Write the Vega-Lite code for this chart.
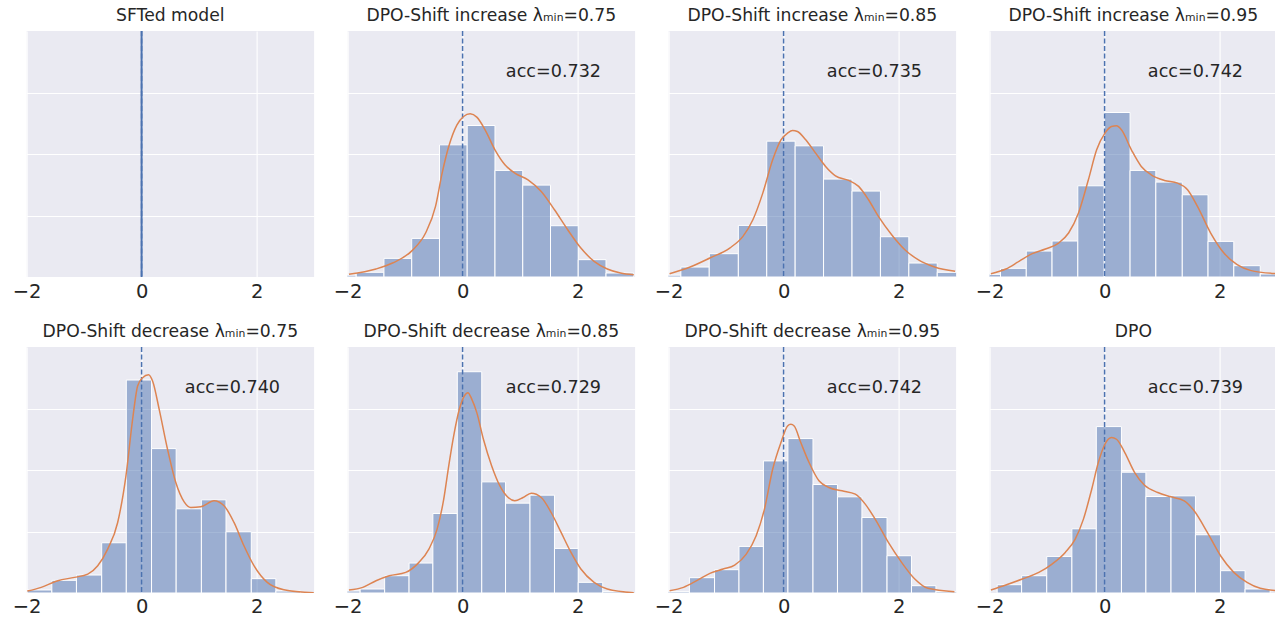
{
  "$schema": "https://vega.github.io/schema/vega-lite/v6.json",
  "padding": {"left": 11.6, "top": 6, "right": 0, "bottom": 0},
  "background": "white",
  "data": {"values": [
    {"p":1,"kind":"acc"},{"p":2,"kind":"acc"},{"p":3,"kind":"acc"},{"p":4,"kind":"acc"},
    {"p":5,"kind":"acc"},{"p":6,"kind":"acc"},{"p":7,"kind":"acc"},{"p":8,"kind":"acc"},
    {"p":1,"kind":"spike"},

    {"p":2,"kind":"bar","x0":-2.33,"x1":-1.85,"h":0.03},
    {"p":2,"kind":"bar","x0":-1.85,"x1":-1.368,"h":0.076},
    {"p":2,"kind":"bar","x0":-1.368,"x1":-0.885,"h":0.303},
    {"p":2,"kind":"bar","x0":-0.885,"x1":-0.402,"h":0.628},
    {"p":2,"kind":"bar","x0":-0.402,"x1":0.08,"h":2.149},
    {"p":2,"kind":"bar","x0":0.08,"x1":0.563,"h":2.463},
    {"p":2,"kind":"bar","x0":0.563,"x1":1.046,"h":1.733},
    {"p":2,"kind":"bar","x0":1.046,"x1":1.529,"h":1.494},
    {"p":2,"kind":"bar","x0":1.529,"x1":2.011,"h":0.834},
    {"p":2,"kind":"bar","x0":2.011,"x1":2.494,"h":0.282},
    {"p":2,"kind":"bar","x0":2.494,"x1":2.977,"h":0.065},

    {"p":3,"kind":"bar","x0":-2.28,"x1":-1.787,"h":0.03},
    {"p":3,"kind":"bar","x0":-1.787,"x1":-1.293,"h":0.162},
    {"p":3,"kind":"bar","x0":-1.293,"x1":-0.787,"h":0.379},
    {"p":3,"kind":"bar","x0":-0.787,"x1":-0.293,"h":0.839},
    {"p":3,"kind":"bar","x0":-0.293,"x1":0.201,"h":2.209},
    {"p":3,"kind":"bar","x0":0.201,"x1":0.695,"h":2.133},
    {"p":3,"kind":"bar","x0":0.695,"x1":1.19,"h":1.592},
    {"p":3,"kind":"bar","x0":1.19,"x1":1.684,"h":1.397},
    {"p":3,"kind":"bar","x0":1.684,"x1":2.178,"h":0.655},
    {"p":3,"kind":"bar","x0":2.178,"x1":2.672,"h":0.227},
    {"p":3,"kind":"bar","x0":2.672,"x1":3.166,"h":0.076},

    {"p":4,"kind":"bar","x0":-2.26,"x1":-1.81,"h":0.043},
    {"p":4,"kind":"bar","x0":-1.81,"x1":-1.362,"h":0.141},
    {"p":4,"kind":"bar","x0":-1.362,"x1":-0.914,"h":0.422},
    {"p":4,"kind":"bar","x0":-0.914,"x1":-0.466,"h":0.585},
    {"p":4,"kind":"bar","x0":-0.466,"x1":-0.006,"h":1.483},
    {"p":4,"kind":"bar","x0":-0.006,"x1":0.443,"h":2.675},
    {"p":4,"kind":"bar","x0":0.443,"x1":0.891,"h":1.733},
    {"p":4,"kind":"bar","x0":0.891,"x1":1.351,"h":1.543},
    {"p":4,"kind":"bar","x0":1.351,"x1":1.799,"h":1.337},
    {"p":4,"kind":"bar","x0":1.799,"x1":2.247,"h":0.579},
    {"p":4,"kind":"bar","x0":2.247,"x1":2.707,"h":0.184},
    {"p":4,"kind":"bar","x0":2.707,"x1":3.16,"h":0.049},

    {"p":5,"kind":"bar","x0":-1.99,"x1":-1.561,"h":0.049},
    {"p":5,"kind":"bar","x0":-1.561,"x1":-1.133,"h":0.206},
    {"p":5,"kind":"bar","x0":-1.133,"x1":-0.694,"h":0.292},
    {"p":5,"kind":"bar","x0":-0.694,"x1":-0.266,"h":0.817},
    {"p":5,"kind":"bar","x0":-0.266,"x1":0.173,"h":3.463},
    {"p":5,"kind":"bar","x0":0.173,"x1":0.601,"h":2.348},
    {"p":5,"kind":"bar","x0":0.601,"x1":1.04,"h":1.369},
    {"p":5,"kind":"bar","x0":1.04,"x1":1.468,"h":1.515},
    {"p":5,"kind":"bar","x0":1.468,"x1":1.908,"h":0.996},
    {"p":5,"kind":"bar","x0":1.908,"x1":2.335,"h":0.233},
    {"p":5,"kind":"bar","x0":2.335,"x1":2.763,"h":0.032},

    {"p":6,"kind":"bar","x0":-2.2,"x1":-1.782,"h":0.032},
    {"p":6,"kind":"bar","x0":-1.782,"x1":-1.356,"h":0.065},
    {"p":6,"kind":"bar","x0":-1.356,"x1":-0.931,"h":0.281},
    {"p":6,"kind":"bar","x0":-0.931,"x1":-0.517,"h":0.487},
    {"p":6,"kind":"bar","x0":-0.517,"x1":-0.092,"h":1.293},
    {"p":6,"kind":"bar","x0":-0.092,"x1":0.333,"h":3.598},
    {"p":6,"kind":"bar","x0":0.333,"x1":0.747,"h":1.807},
    {"p":6,"kind":"bar","x0":0.747,"x1":1.172,"h":1.461},
    {"p":6,"kind":"bar","x0":1.172,"x1":1.598,"h":1.591},
    {"p":6,"kind":"bar","x0":1.598,"x1":2.011,"h":0.725},
    {"p":6,"kind":"bar","x0":2.011,"x1":2.437,"h":0.173},
    {"p":6,"kind":"bar","x0":2.437,"x1":2.862,"h":0.022},

    {"p":7,"kind":"bar","x0":-2.066,"x1":-1.638,"h":0.022},
    {"p":7,"kind":"bar","x0":-1.638,"x1":-1.201,"h":0.249},
    {"p":7,"kind":"bar","x0":-1.201,"x1":-0.776,"h":0.379},
    {"p":7,"kind":"bar","x0":-0.776,"x1":-0.351,"h":0.758},
    {"p":7,"kind":"bar","x0":-0.351,"x1":0.075,"h":2.148},
    {"p":7,"kind":"bar","x0":0.075,"x1":0.511,"h":2.511},
    {"p":7,"kind":"bar","x0":0.511,"x1":0.937,"h":1.764},
    {"p":7,"kind":"bar","x0":0.937,"x1":1.362,"h":1.564},
    {"p":7,"kind":"bar","x0":1.362,"x1":1.799,"h":1.228},
    {"p":7,"kind":"bar","x0":1.799,"x1":2.224,"h":0.606},
    {"p":7,"kind":"bar","x0":2.224,"x1":2.649,"h":0.119},
    {"p":7,"kind":"bar","x0":2.649,"x1":3.075,"h":0.022},

    {"p":8,"kind":"bar","x0":-1.868,"x1":-1.443,"h":0.135},
    {"p":8,"kind":"bar","x0":-1.443,"x1":-1.006,"h":0.281},
    {"p":8,"kind":"bar","x0":-1.006,"x1":-0.569,"h":0.595},
    {"p":8,"kind":"bar","x0":-0.569,"x1":-0.144,"h":1.044},
    {"p":8,"kind":"bar","x0":-0.144,"x1":0.293,"h":2.706},
    {"p":8,"kind":"bar","x0":0.293,"x1":0.718,"h":1.964},
    {"p":8,"kind":"bar","x0":0.718,"x1":1.155,"h":1.569},
    {"p":8,"kind":"bar","x0":1.155,"x1":1.58,"h":1.58},
    {"p":8,"kind":"bar","x0":1.58,"x1":2.017,"h":0.947},
    {"p":8,"kind":"bar","x0":2.017,"x1":2.443,"h":0.363},
    {"p":8,"kind":"bar","x0":2.443,"x1":2.879,"h":0.065},

    {"p":2,"kind":"kde","x":-1.977,"y":0.043},
    {"p":2,"kind":"kde","x":-1.506,"y":0.13},
    {"p":2,"kind":"kde","x":-1.218,"y":0.227},
    {"p":2,"kind":"kde","x":-0.874,"y":0.433},
    {"p":2,"kind":"kde","x":-0.644,"y":0.715},
    {"p":2,"kind":"kde","x":-0.471,"y":1.148},
    {"p":2,"kind":"kde","x":-0.356,"y":1.689},
    {"p":2,"kind":"kde","x":-0.241,"y":2.122},
    {"p":2,"kind":"kde","x":-0.098,"y":2.474},
    {"p":2,"kind":"kde","x":0.017,"y":2.61},
    {"p":2,"kind":"kde","x":0.132,"y":2.653},
    {"p":2,"kind":"kde","x":0.247,"y":2.599},
    {"p":2,"kind":"kde","x":0.391,"y":2.393},
    {"p":2,"kind":"kde","x":0.563,"y":2.068},
    {"p":2,"kind":"kde","x":0.736,"y":1.825},
    {"p":2,"kind":"kde","x":0.908,"y":1.689},
    {"p":2,"kind":"kde","x":1.138,"y":1.581},
    {"p":2,"kind":"kde","x":1.368,"y":1.391},
    {"p":2,"kind":"kde","x":1.598,"y":1.094},
    {"p":2,"kind":"kde","x":1.828,"y":0.769},
    {"p":2,"kind":"kde","x":2.057,"y":0.471},
    {"p":2,"kind":"kde","x":2.287,"y":0.254},
    {"p":2,"kind":"kde","x":2.517,"y":0.13},
    {"p":2,"kind":"kde","x":2.747,"y":0.065},
    {"p":2,"kind":"kde","x":2.977,"y":0.038},

    {"p":3,"kind":"kde","x":-1.983,"y":0.054},
    {"p":3,"kind":"kde","x":-1.626,"y":0.162},
    {"p":3,"kind":"kde","x":-1.282,"y":0.309},
    {"p":3,"kind":"kde","x":-0.937,"y":0.471},
    {"p":3,"kind":"kde","x":-0.707,"y":0.661},
    {"p":3,"kind":"kde","x":-0.534,"y":0.931},
    {"p":3,"kind":"kde","x":-0.362,"y":1.364},
    {"p":3,"kind":"kde","x":-0.19,"y":1.906},
    {"p":3,"kind":"kde","x":-0.046,"y":2.231},
    {"p":3,"kind":"kde","x":0.069,"y":2.339},
    {"p":3,"kind":"kde","x":0.155,"y":2.382},
    {"p":3,"kind":"kde","x":0.241,"y":2.366},
    {"p":3,"kind":"kde","x":0.385,"y":2.231},
    {"p":3,"kind":"kde","x":0.557,"y":2.014},
    {"p":3,"kind":"kde","x":0.73,"y":1.798},
    {"p":3,"kind":"kde","x":0.902,"y":1.646},
    {"p":3,"kind":"kde","x":1.132,"y":1.57},
    {"p":3,"kind":"kde","x":1.305,"y":1.473},
    {"p":3,"kind":"kde","x":1.477,"y":1.256},
    {"p":3,"kind":"kde","x":1.649,"y":0.985},
    {"p":3,"kind":"kde","x":1.879,"y":0.688},
    {"p":3,"kind":"kde","x":2.109,"y":0.444},
    {"p":3,"kind":"kde","x":2.339,"y":0.282},
    {"p":3,"kind":"kde","x":2.626,"y":0.162},
    {"p":3,"kind":"kde","x":2.983,"y":0.092},

    {"p":4,"kind":"kde","x":-1.977,"y":0.054},
    {"p":4,"kind":"kde","x":-1.718,"y":0.13},
    {"p":4,"kind":"kde","x":-1.489,"y":0.254},
    {"p":4,"kind":"kde","x":-1.259,"y":0.379},
    {"p":4,"kind":"kde","x":-1.029,"y":0.455},
    {"p":4,"kind":"kde","x":-0.799,"y":0.552},
    {"p":4,"kind":"kde","x":-0.626,"y":0.715},
    {"p":4,"kind":"kde","x":-0.454,"y":1.04},
    {"p":4,"kind":"kde","x":-0.282,"y":1.581},
    {"p":4,"kind":"kde","x":-0.138,"y":2.068},
    {"p":4,"kind":"kde","x":0.006,"y":2.339},
    {"p":4,"kind":"kde","x":0.121,"y":2.447},
    {"p":4,"kind":"kde","x":0.207,"y":2.458},
    {"p":4,"kind":"kde","x":0.293,"y":2.393},
    {"p":4,"kind":"kde","x":0.466,"y":2.068},
    {"p":4,"kind":"kde","x":0.638,"y":1.798},
    {"p":4,"kind":"kde","x":0.81,"y":1.662},
    {"p":4,"kind":"kde","x":1.04,"y":1.57},
    {"p":4,"kind":"kde","x":1.27,"y":1.527},
    {"p":4,"kind":"kde","x":1.443,"y":1.419},
    {"p":4,"kind":"kde","x":1.615,"y":1.148},
    {"p":4,"kind":"kde","x":1.845,"y":0.715},
    {"p":4,"kind":"kde","x":2.075,"y":0.39},
    {"p":4,"kind":"kde","x":2.305,"y":0.2},
    {"p":4,"kind":"kde","x":2.534,"y":0.108},
    {"p":4,"kind":"kde","x":2.994,"y":0.054},

    {"p":5,"kind":"kde","x":-1.988,"y":0.032},
    {"p":5,"kind":"kde","x":-1.746,"y":0.092},
    {"p":5,"kind":"kde","x":-1.457,"y":0.2},
    {"p":5,"kind":"kde","x":-1.168,"y":0.254},
    {"p":5,"kind":"kde","x":-0.936,"y":0.308},
    {"p":5,"kind":"kde","x":-0.763,"y":0.444},
    {"p":5,"kind":"kde","x":-0.59,"y":0.714},
    {"p":5,"kind":"kde","x":-0.416,"y":1.147},
    {"p":5,"kind":"kde","x":-0.272,"y":1.905},
    {"p":5,"kind":"kde","x":-0.156,"y":2.825},
    {"p":5,"kind":"kde","x":-0.069,"y":3.366},
    {"p":5,"kind":"kde","x":0.017,"y":3.501},
    {"p":5,"kind":"kde","x":0.121,"y":3.55},
    {"p":5,"kind":"kde","x":0.191,"y":3.447},
    {"p":5,"kind":"kde","x":0.306,"y":2.987},
    {"p":5,"kind":"kde","x":0.451,"y":2.338},
    {"p":5,"kind":"kde","x":0.595,"y":1.797},
    {"p":5,"kind":"kde","x":0.74,"y":1.483},
    {"p":5,"kind":"kde","x":0.855,"y":1.391},
    {"p":5,"kind":"kde","x":1.029,"y":1.402},
    {"p":5,"kind":"kde","x":1.26,"y":1.499},
    {"p":5,"kind":"kde","x":1.434,"y":1.418},
    {"p":5,"kind":"kde","x":1.607,"y":1.147},
    {"p":5,"kind":"kde","x":1.78,"y":0.768},
    {"p":5,"kind":"kde","x":1.954,"y":0.444},
    {"p":5,"kind":"kde","x":2.185,"y":0.173},
    {"p":5,"kind":"kde","x":2.474,"y":0.054},
    {"p":5,"kind":"kde","x":2.994,"y":0.003},

    {"p":6,"kind":"kde","x":-1.977,"y":0.049},
    {"p":6,"kind":"kde","x":-1.736,"y":0.092},
    {"p":6,"kind":"kde","x":-1.506,"y":0.2},
    {"p":6,"kind":"kde","x":-1.276,"y":0.281},
    {"p":6,"kind":"kde","x":-0.989,"y":0.335},
    {"p":6,"kind":"kde","x":-0.759,"y":0.498},
    {"p":6,"kind":"kde","x":-0.586,"y":0.714},
    {"p":6,"kind":"kde","x":-0.443,"y":1.039},
    {"p":6,"kind":"kde","x":-0.328,"y":1.526},
    {"p":6,"kind":"kde","x":-0.241,"y":2.067},
    {"p":6,"kind":"kde","x":-0.155,"y":2.554},
    {"p":6,"kind":"kde","x":-0.057,"y":2.987},
    {"p":6,"kind":"kde","x":0.029,"y":3.203},
    {"p":6,"kind":"kde","x":0.092,"y":3.258},
    {"p":6,"kind":"kde","x":0.161,"y":3.149},
    {"p":6,"kind":"kde","x":0.247,"y":2.933},
    {"p":6,"kind":"kde","x":0.362,"y":2.5},
    {"p":6,"kind":"kde","x":0.506,"y":2.067},
    {"p":6,"kind":"kde","x":0.649,"y":1.742},
    {"p":6,"kind":"kde","x":0.793,"y":1.553},
    {"p":6,"kind":"kde","x":0.908,"y":1.499},
    {"p":6,"kind":"kde","x":1.052,"y":1.553},
    {"p":6,"kind":"kde","x":1.195,"y":1.623},
    {"p":6,"kind":"kde","x":1.368,"y":1.553},
    {"p":6,"kind":"kde","x":1.54,"y":1.309},
    {"p":6,"kind":"kde","x":1.713,"y":0.985},
    {"p":6,"kind":"kde","x":1.885,"y":0.66},
    {"p":6,"kind":"kde","x":2.057,"y":0.39},
    {"p":6,"kind":"kde","x":2.287,"y":0.173},
    {"p":6,"kind":"kde","x":2.517,"y":0.065},
    {"p":6,"kind":"kde","x":2.977,"y":0.003},

    {"p":7,"kind":"kde","x":-1.983,"y":0.038},
    {"p":7,"kind":"kde","x":-1.741,"y":0.092},
    {"p":7,"kind":"kde","x":-1.511,"y":0.2},
    {"p":7,"kind":"kde","x":-1.282,"y":0.319},
    {"p":7,"kind":"kde","x":-1.052,"y":0.39},
    {"p":7,"kind":"kde","x":-0.851,"y":0.455},
    {"p":7,"kind":"kde","x":-0.649,"y":0.633},
    {"p":7,"kind":"kde","x":-0.477,"y":0.931},
    {"p":7,"kind":"kde","x":-0.333,"y":1.364},
    {"p":7,"kind":"kde","x":-0.19,"y":2.013},
    {"p":7,"kind":"kde","x":-0.046,"y":2.446},
    {"p":7,"kind":"kde","x":0.069,"y":2.716},
    {"p":7,"kind":"kde","x":0.126,"y":2.743},
    {"p":7,"kind":"kde","x":0.184,"y":2.716},
    {"p":7,"kind":"kde","x":0.299,"y":2.446},
    {"p":7,"kind":"kde","x":0.443,"y":2.121},
    {"p":7,"kind":"kde","x":0.615,"y":1.824},
    {"p":7,"kind":"kde","x":0.787,"y":1.715},
    {"p":7,"kind":"kde","x":1.017,"y":1.661},
    {"p":7,"kind":"kde","x":1.247,"y":1.607},
    {"p":7,"kind":"kde","x":1.42,"y":1.445},
    {"p":7,"kind":"kde","x":1.592,"y":1.201},
    {"p":7,"kind":"kde","x":1.822,"y":0.822},
    {"p":7,"kind":"kde","x":2.052,"y":0.498},
    {"p":7,"kind":"kde","x":2.282,"y":0.227},
    {"p":7,"kind":"kde","x":2.511,"y":0.076},
    {"p":7,"kind":"kde","x":2.971,"y":0.022},

    {"p":8,"kind":"kde","x":-1.977,"y":0.049},
    {"p":8,"kind":"kde","x":-1.718,"y":0.13},
    {"p":8,"kind":"kde","x":-1.431,"y":0.227},
    {"p":8,"kind":"kde","x":-1.144,"y":0.335},
    {"p":8,"kind":"kde","x":-0.914,"y":0.471},
    {"p":8,"kind":"kde","x":-0.684,"y":0.66},
    {"p":8,"kind":"kde","x":-0.511,"y":0.877},
    {"p":8,"kind":"kde","x":-0.368,"y":1.201},
    {"p":8,"kind":"kde","x":-0.224,"y":1.688},
    {"p":8,"kind":"kde","x":-0.109,"y":2.121},
    {"p":8,"kind":"kde","x":0.006,"y":2.419},
    {"p":8,"kind":"kde","x":0.121,"y":2.527},
    {"p":8,"kind":"kde","x":0.207,"y":2.5},
    {"p":8,"kind":"kde","x":0.351,"y":2.284},
    {"p":8,"kind":"kde","x":0.523,"y":1.959},
    {"p":8,"kind":"kde","x":0.695,"y":1.753},
    {"p":8,"kind":"kde","x":0.925,"y":1.634},
    {"p":8,"kind":"kde","x":1.155,"y":1.564},
    {"p":8,"kind":"kde","x":1.385,"y":1.499},
    {"p":8,"kind":"kde","x":1.557,"y":1.337},
    {"p":8,"kind":"kde","x":1.787,"y":0.985},
    {"p":8,"kind":"kde","x":2.017,"y":0.606},
    {"p":8,"kind":"kde","x":2.247,"y":0.335},
    {"p":8,"kind":"kde","x":2.477,"y":0.173},
    {"p":8,"kind":"kde","x":2.707,"y":0.076},
    {"p":8,"kind":"kde","x":2.994,"y":0.038}
  ]},
  "transform": [
    {"lookup": "p", "from": {"data": {"values": [
      {"p":1,"title":"SFTed model","acc":""},
      {"p":2,"title":"DPO-Shift increase λₘᵢₙ=0.75","acc":"acc=0.732"},
      {"p":3,"title":"DPO-Shift increase λₘᵢₙ=0.85","acc":"acc=0.735"},
      {"p":4,"title":"DPO-Shift increase λₘᵢₙ=0.95","acc":"acc=0.742"},
      {"p":5,"title":"DPO-Shift decrease λₘᵢₙ=0.75","acc":"acc=0.740"},
      {"p":6,"title":"DPO-Shift decrease λₘᵢₙ=0.85","acc":"acc=0.729"},
      {"p":7,"title":"DPO-Shift decrease λₘᵢₙ=0.95","acc":"acc=0.742"},
      {"p":8,"title":"DPO","acc":"acc=0.739"}
    ]}, "key": "p", "fields": ["title", "acc"]}}
  ],
  "facet": {"field": "title", "type": "nominal", "sort": {"field": "p", "op": "min"},
    "header": {"title": null, "labelFont": "DejaVu Sans", "labelFontSize": 17.2, "labelFontWeight": "normal", "labelColor": "#262626", "labelPadding": 6}},
  "columns": 4,
  "spacing": {"column": 18, "row": 22},
  "resolve": {"axis": {"x": "independent"}},
  "spec": {
    "width": 287.5,
    "height": 246,
    "layer": [
      {
        "transform": [{"filter": "datum.kind == 'bar'"}],
        "mark": {"type": "rect", "fill": "#4C72B0", "fillOpacity": 0.5, "stroke": "white", "strokeWidth": 1, "clip": true},
        "encoding": {
          "x": {"field": "x0", "type": "quantitative", "scale": {"domain": [-2, 3], "nice": false, "zero": false},
                "axis": {"values": [-2, 0, 2], "format": "d", "labelFlush": false, "title": null}},
          "x2": {"field": "x1"},
          "y": {"field": "h", "type": "quantitative", "scale": {"domain": [0, 4], "nice": false},
                "axis": {"values": [1, 2, 3], "labels": false, "title": null}},
          "y2": {"datum": 0}
        }
      },
      {
        "transform": [{"filter": "datum.kind == 'acc'"}],
        "mark": {"type": "rule", "color": "#4C72B0", "strokeWidth": 1.5, "strokeDash": [5, 2.5]},
        "encoding": {"x": {"datum": 0, "type": "quantitative"}}
      },
      {
        "transform": [{"filter": "datum.kind == 'kde'"}],
        "mark": {"type": "line", "color": "#DD8452", "strokeWidth": 1.5, "interpolate": "monotone", "clip": true},
        "encoding": {
          "x": {"field": "x", "type": "quantitative"},
          "y": {"field": "y", "type": "quantitative"}
        }
      },
      {
        "transform": [{"filter": "datum.kind == 'spike'"}],
        "mark": {"type": "rule", "color": "#4C72B0", "strokeWidth": 2},
        "encoding": {"x": {"datum": 0, "type": "quantitative"}}
      },
      {
        "transform": [{"filter": "datum.kind == 'acc' && datum.acc != ''"}],
        "mark": {"type": "text", "font": "DejaVu Sans", "fontSize": 17.6, "color": "#262626", "align": "center", "baseline": "middle"},
        "encoding": {
          "x": {"datum": 1.58, "type": "quantitative"},
          "y": {"datum": 3.34, "type": "quantitative"},
          "text": {"field": "acc"}
        }
      }
    ]
  },
  "config": {
    "view": {"fill": "#EAEAF2", "stroke": null},
    "axis": {"domain": false, "ticks": false, "tickSize": 0, "grid": true, "gridColor": "white", "gridWidth": 1.1,
             "labelFont": "DejaVu Sans", "labelFontSize": 19.5, "labelColor": "#262626", "labelPadding": 5, "labelFlush": false, "title": null}
  }
}
